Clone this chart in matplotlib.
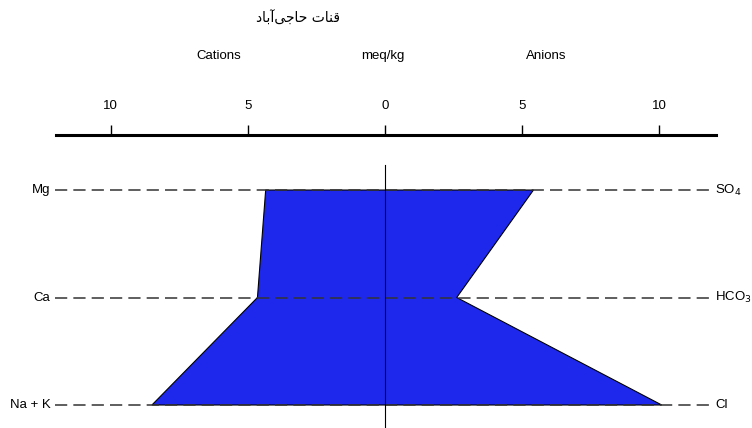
import matplotlib
matplotlib.use("Agg")
import matplotlib.pyplot as plt

# Stiff diagram, qanat Hajiabad (meq/kg)
title_text = "قنات حاجی‌آباد"
cations = ["Mg", "Ca", "Na + K"]
anions = ["SO$_4$", "HCO$_3$", "Cl"]
cation_vals = [4.35, 4.65, 8.5]
anion_vals = [5.42, 2.62, 10.1]
tick_vals = [-10, -5, 0, 5, 10]

# matplotlib has no Arabic shaping: pick contextual forms and reverse
FORMS = {  # isolated, final, initial, medial
    "ق": "\uFED5\uFED6\uFED7\uFED8", "ن": "\uFEE5\uFEE6\uFEE7\uFEE8",
    "ت": "\uFE95\uFE96\uFE97\uFE98", "ح": "\uFEA1\uFEA2\uFEA3\uFEA4",
    "ج": "\uFE9D\uFE9E\uFE9F\uFEA0", "ی": "\uFBFC\uFBFD\uFBFE\uFBFF",
    "ب": "\uFE8F\uFE90\uFE91\uFE92",
    "ا": "\uFE8D\uFE8E", "آ": "\uFE81\uFE82", "د": "\uFEA9\uFEAA",
}


def shape(s):
    out = []
    for i, c in enumerate(s):
        if c not in FORMS:
            if c != "\u200c":
                out.append(c)
            continue
        prev = s[i - 1] if i > 0 else ""
        nxt = s[i + 1] if i + 1 < len(s) else ""
        join_prev = prev in FORMS and len(FORMS[prev]) == 4
        join_next = len(FORMS[c]) == 4 and nxt in FORMS
        f = FORMS[c]
        if join_prev and join_next:
            out.append(f[3])
        elif join_prev:
            out.append(f[1])
        elif join_next:
            out.append(f[2])
        else:
            out.append(f[0])
    return "".join(out[::-1])


plt.rcParams['font.family'] = ['Liberation Sans', 'DejaVu Sans']
FS = 9.5

W, H = 752, 428
fig = plt.figure(figsize=(W / 100, H / 100), dpi=100)
ax = fig.add_axes([56 / W, 0, 660 / W, 1 - 135 / H])

rows = list(range(len(cations)))[::-1]  # Mg on top
xs = [-v for v in cation_vals] + anion_vals[::-1]
ys = rows + rows[::-1]
ax.fill(xs, ys, facecolor="#1e28ec", edgecolor="black", linewidth=0.8, zorder=2)

for y, cat, an in zip(rows, cations, anions):
    ax.plot([-12.04, 11.9], [y, y], color="#333333", linewidth=1.1,
            dashes=(8, 4), zorder=3, clip_on=False)
    ax.text(-12.2, y, cat, ha="right", va="center", fontsize=FS)
    ax.text(12.04, y, an, ha="left", va="center", fontsize=FS)

ax.plot([0, 0], [-0.3, 2.233], color="black", linewidth=0.8, zorder=4,
        clip_on=False)

ax.set_xlim(-12.0, 12.08)
ax.set_ylim(-0.214, 2.512)
for side in ["left", "right", "bottom"]:
    ax.spines[side].set_visible(False)
ax.spines["top"].set_linewidth(2.2)
ax.set_yticks([])
ax.xaxis.set_ticks_position("top")
ax.set_xticks(tick_vals)
ax.set_xticklabels([str(abs(t)) for t in tick_vals], fontsize=FS)
ax.tick_params(axis="x", direction="out", length=7.5, width=1, pad=9)

fig.text(219 / W, 1 - 56 / H, "Cations", ha="center", va="center", fontsize=FS)
fig.text(383 / W, 1 - 56 / H, "meq/kg", ha="center", va="center", fontsize=FS)
fig.text(546 / W, 1 - 56 / H, "Anions", ha="center", va="center", fontsize=FS)
fig.text(298 / W, 1 - 18 / H, shape(title_text), ha="center", va="center",
         fontsize=10, family=['DejaVu Sans'])

fig.savefig("out.png", dpi=100)
